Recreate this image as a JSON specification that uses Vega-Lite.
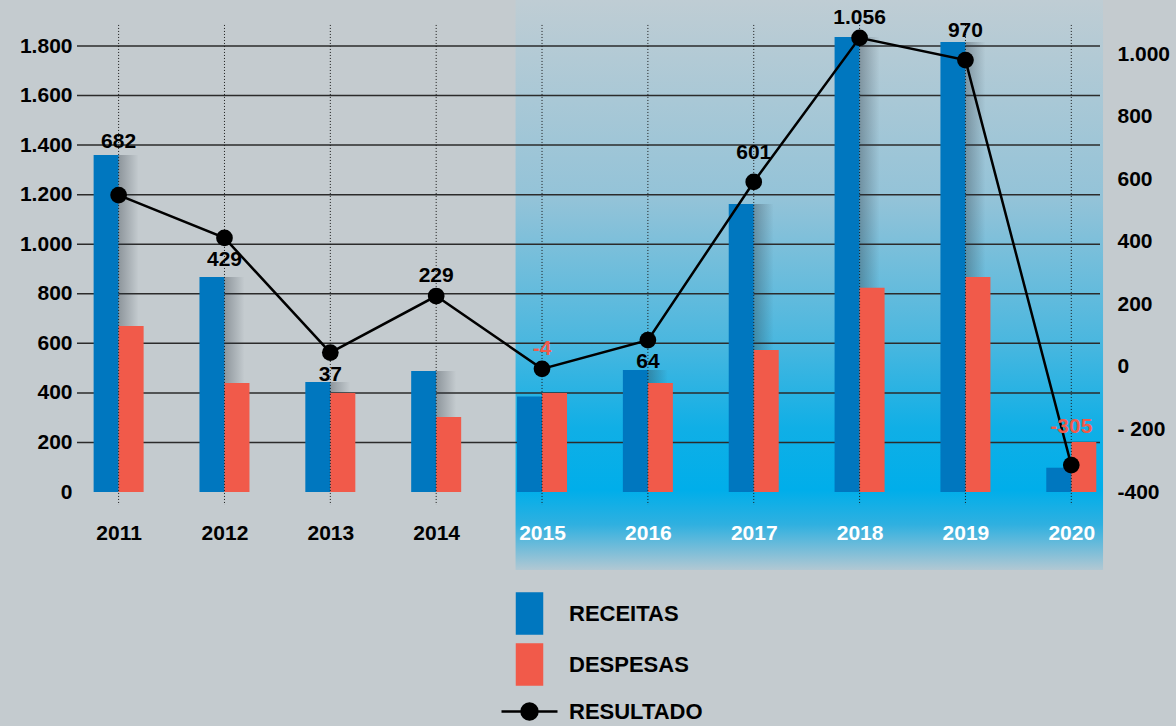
{
  "$schema": "https://vega.github.io/schema/vega-lite/v6.json",
  "width": 1023,
  "height": 446,
  "autosize": {"type": "none"},
  "padding": {"left": 77, "top": 46, "right": 76, "bottom": 234},
  "background": "#c4cbcf",
  "config": {
    "view": {"stroke": null},
    "font": "Liberation Sans",
    "locale": {"number": {"decimal": ",", "thousands": ".", "grouping": [3], "currency": ["", ""], "minus": "-"}}
  },
  "datasets": {
    "anos": [
      {"ano": 2011, "receitas": 1360, "despesas": 670, "resultado": 550, "rotulo": 682},
      {"ano": 2012, "receitas": 868, "despesas": 440, "resultado": 413, "rotulo": 429},
      {"ano": 2013, "receitas": 444, "despesas": 400, "resultado": 46, "rotulo": 37},
      {"ano": 2014, "receitas": 488, "despesas": 303, "resultado": 227, "rotulo": 229},
      {"ano": 2015, "receitas": 385, "despesas": 400, "resultado": -6, "rotulo": -4},
      {"ano": 2016, "receitas": 492, "despesas": 440, "resultado": 86, "rotulo": 64},
      {"ano": 2017, "receitas": 1162, "despesas": 573, "resultado": 592, "rotulo": 601},
      {"ano": 2018, "receitas": 1836, "despesas": 824, "resultado": 1053, "rotulo": 1056},
      {"ano": 2019, "receitas": 1816, "despesas": 868, "resultado": 982, "rotulo": 970},
      {"ano": 2020, "receitas": 98, "despesas": 202, "resultado": -314, "rotulo": -305}
    ],
    "grade": [{"g": 200}, {"g": 400}, {"g": 600}, {"g": 800}, {"g": 1000}, {"g": 1200}, {"g": 1400}, {"g": 1600}, {"g": 1800}]
  },
  "layer": [
    {
      "layer": [
        {
          "data": {"name": "grade"},
          "mark": {"type": "rule", "color": "#2b2b2b", "strokeWidth": 1.5, "opacity": 0},
          "encoding": {
            "y": {
              "field": "g", "type": "quantitative",
              "scale": {"domain": [0, 1800], "nice": false},
              "axis": {
                "orient": "left", "title": null, "values": [0, 200, 400, 600, 800, 1000, 1200, 1400, 1600, 1800],
                "format": ",d", "domain": false, "ticks": false, "grid": false,
                "labelFontWeight": "bold", "labelFontSize": 21,
                "labelColor": "#000000", "labelPadding": 5
              }
            }
          }
        },
        {
          "data": {"values": [{"inicio": 2014.75, "fim": 2020.3}]},
          "mark": {
            "type": "rect",
            "color": {
              "gradient": "linear", "x1": 0, "y1": 0, "x2": 0, "y2": 1,
              "stops": [
                {"offset": 0, "color": "#bfcdd4"},
                {"offset": 0.35, "color": "#93c3d8"},
                {"offset": 0.6, "color": "#4ab7df"},
                {"offset": 0.75, "color": "#10afe6"},
                {"offset": 0.86, "color": "#00aeea"},
                {"offset": 0.92, "color": "#2fb0e0"},
                {"offset": 1, "color": "#b2c8d3"}
              ]
            }
          },
          "encoding": {
            "x": {
              "field": "inicio", "type": "quantitative",
              "scale": {"domain": [2010.654, 2020.224], "nice": false, "zero": false},
              "axis": {
                "orient": "bottom", "title": null, "values": [2011, 2012, 2013, 2014, 2015, 2016, 2017, 2018, 2019, 2020],
                "format": "d", "domain": false, "ticks": false, "grid": false, "zindex": 2,
                "labelFontWeight": "bold", "labelFontSize": 21,
                "labelPadding": 30,
                "labelColor": {"condition": {"test": "datum.value >= 2015", "value": "#ffffff"}, "value": "#000000"}
              }
            },
            "x2": {"field": "fim"},
            "y": {"datum": 1985.6, "type": "quantitative"},
            "y2": {"datum": -315}
          }
        },
        {
          "data": {"name": "grade"},
          "mark": {"type": "rule", "color": "#2b2b2b", "strokeWidth": 1.5},
          "encoding": {
            "y": {"field": "g", "type": "quantitative"}
          }
        },
        {
          "data": {"name": "anos"},
          "mark": {
            "type": "bar", "width": 20, "xOffset": 10,
            "color": {
              "gradient": "linear", "x1": 0, "y1": 0, "x2": 1, "y2": 0,
              "stops": [
                {"offset": 0, "color": "rgba(40,50,60,0.35)"},
                {"offset": 1, "color": "rgba(40,50,60,0)"}
              ]
            }
          },
          "encoding": {
            "x": {"field": "ano", "type": "quantitative"},
            "y": {"field": "receitas", "type": "quantitative"}
          }
        },
        {
          "data": {"name": "anos"},
          "mark": {"type": "bar", "width": 25, "xOffset": -12.5},
          "encoding": {
            "x": {"field": "ano", "type": "quantitative"},
            "y": {"field": "receitas", "type": "quantitative"},
            "color": {"datum": "RECEITAS", "type": "nominal"}
          }
        },
        {
          "data": {"name": "anos"},
          "mark": {"type": "bar", "width": 25, "xOffset": 12.5},
          "encoding": {
            "x": {"field": "ano", "type": "quantitative"},
            "y": {"field": "despesas", "type": "quantitative"},
            "color": {"datum": "DESPESAS", "type": "nominal"}
          }
        },
        {
          "mark": {"type": "rule", "color": "#111111", "strokeWidth": 2},
          "encoding": {
            "y": {"datum": 0, "type": "quantitative"},
            "x": {"datum": 2010.635, "type": "quantitative"},
            "x2": {"datum": 2020.336}
          }
        },
        {
          "data": {"name": "anos"},
          "mark": {"type": "rule", "color": "#1a1a1a", "strokeWidth": 1, "strokeDash": [1, 2]},
          "encoding": {
            "x": {"field": "ano", "type": "quantitative"},
            "y": {"datum": 1885, "type": "quantitative"},
            "y2": {"datum": -52.5}
          }
        }
      ]
    },
    {
      "data": {"name": "anos"},
      "layer": [
        {
          "mark": {"type": "line", "strokeWidth": 2.5},
          "encoding": {
            "x": {"field": "ano", "type": "quantitative"},
            "y": {
              "field": "resultado", "type": "quantitative",
              "scale": {"domain": [-400, 1027], "nice": false, "zero": false},
              "axis": {
                "orient": "right", "title": null, "values": [-400, -200, 0, 200, 400, 600, 800, 1000],
                "format": ",d", "labelExpr": "datum.value == -200 ? '- 200' : datum.label",
                "domain": false, "ticks": false, "grid": false,
                "labelFontWeight": "bold", "labelFontSize": 21,
                "labelColor": "#000000", "labelPadding": 17
              }
            },
            "color": {
              "datum": "RESULTADO", "type": "nominal",
              "scale": {"domain": ["RECEITAS", "DESPESAS", "RESULTADO"], "range": ["#0077bf", "#f15a4a", "#000000"]},
              "legend": {
                "title": null, "orient": "none", "legendX": 431, "legendY": 546, "direction": "vertical",
                "labelFontWeight": "bold", "labelFontSize": 22, "labelColor": "#000000",
                "labelOffset": 18, "rowPadding": 0, "symbolSize": 1600,
                "encode": {
                  "symbols": {
                    "update": {
                      "shape": {"signal": "datum.value === 'RESULTADO' ? 'M-1.4,0H1.4M0.4,0A0.4,0.4,0,1,1,-0.4,0A0.4,0.4,0,1,1,0.4,0Z' : 'M-0.625,-1H0.625V1H-0.625Z'"},
                      "fill": {"signal": "datum.value === 'RECEITAS' ? '#0077bf' : datum.value === 'DESPESAS' ? '#f15a4a' : '#000000'"},
                      "stroke": {"signal": "datum.value === 'RESULTADO' ? '#000000' : 'transparent'"},
                      "strokeWidth": {"value": 2.5},
                      "opacity": {"value": 1},
                      "fillOpacity": {"value": 1},
                      "strokeOpacity": {"value": 1},
                      "size": {"value": 1600}
                    }
                  }
                }
              }
            }
          }
        },
        {
          "mark": {"type": "point", "filled": true, "size": 280, "opacity": 1},
          "encoding": {
            "x": {"field": "ano", "type": "quantitative"},
            "y": {"field": "resultado", "type": "quantitative"},
            "color": {"datum": "RESULTADO", "type": "nominal"}
          }
        },
        {
          "transform": [{"filter": "indexof([2014, 2015, 2018], datum.ano) >= 0"}],
          "mark": {"type": "text", "fontWeight": "bold", "fontSize": 21, "dy": -20, "baseline": "middle"},
          "encoding": {
            "x": {"field": "ano", "type": "quantitative"},
            "y": {"field": "resultado", "type": "quantitative"},
            "text": {"field": "rotulo", "type": "quantitative", "format": ","},
            "color": {"condition": {"test": "datum.rotulo < 0", "value": "#f15a4a"}, "value": "#000000"}
          }
        },
        {
          "transform": [{"filter": "indexof([2012, 2013, 2016], datum.ano) >= 0"}],
          "mark": {"type": "text", "fontWeight": "bold", "fontSize": 21, "dy": 22, "baseline": "middle"},
          "encoding": {
            "x": {"field": "ano", "type": "quantitative"},
            "y": {"field": "resultado", "type": "quantitative"},
            "text": {"field": "rotulo", "type": "quantitative", "format": ","},
            "color": {"condition": {"test": "datum.rotulo < 0", "value": "#f15a4a"}, "value": "#000000"}
          }
        },
        {
          "transform": [{"filter": "indexof([2017, 2019], datum.ano) >= 0"}],
          "mark": {"type": "text", "fontWeight": "bold", "fontSize": 21, "dy": -29, "baseline": "middle"},
          "encoding": {
            "x": {"field": "ano", "type": "quantitative"},
            "y": {"field": "resultado", "type": "quantitative"},
            "text": {"field": "rotulo", "type": "quantitative", "format": ","},
            "color": {"condition": {"test": "datum.rotulo < 0", "value": "#f15a4a"}, "value": "#000000"}
          }
        },
        {
          "transform": [{"filter": "datum.ano == 2020"}],
          "mark": {"type": "text", "fontWeight": "bold", "fontSize": 21, "dy": -38, "baseline": "middle"},
          "encoding": {
            "x": {"field": "ano", "type": "quantitative"},
            "y": {"field": "resultado", "type": "quantitative"},
            "text": {"field": "rotulo", "type": "quantitative", "format": ","},
            "color": {"condition": {"test": "datum.rotulo < 0", "value": "#f15a4a"}, "value": "#000000"}
          }
        },
        {
          "transform": [{"filter": "datum.ano == 2011"}],
          "mark": {"type": "text", "fontWeight": "bold", "fontSize": 21, "dy": -53, "baseline": "middle"},
          "encoding": {
            "x": {"field": "ano", "type": "quantitative"},
            "y": {"field": "resultado", "type": "quantitative"},
            "text": {"field": "rotulo", "type": "quantitative", "format": ","},
            "color": {"condition": {"test": "datum.rotulo < 0", "value": "#f15a4a"}, "value": "#000000"}
          }
        }
      ]
    }
  ],
  "resolve": {"scale": {"y": "independent"}}
}
